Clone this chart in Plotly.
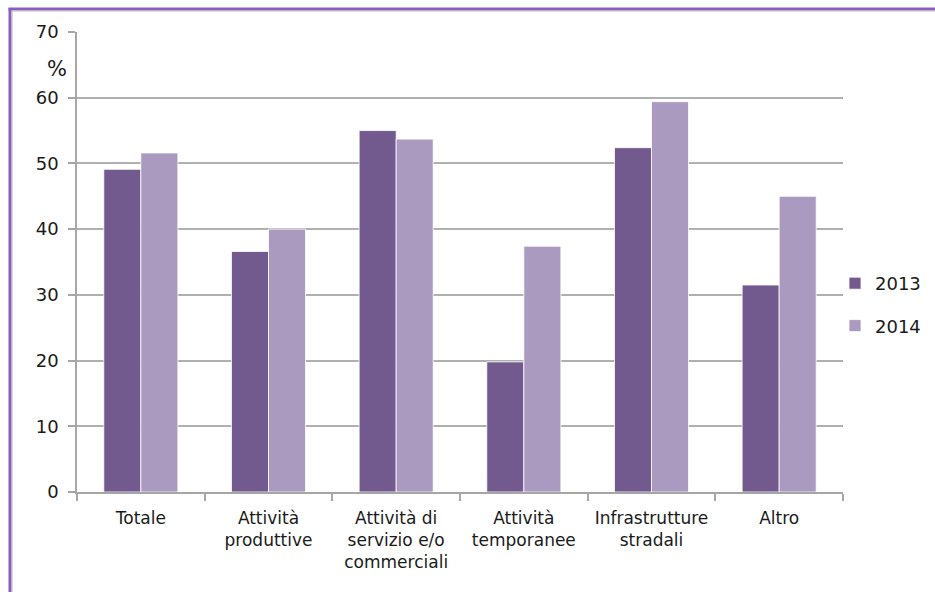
import plotly.graph_objects as go

categories = ["Totale", "Attività<br>produttive", "Attività di<br>servizio e/o<br>commerciali",
              "Attività<br>temporanee", "Infrastrutture<br>stradali", "Altro"]
values_2013 = [49.1, 36.6, 55.0, 19.8, 52.4, 31.5]
values_2014 = [51.6, 40.0, 53.7, 37.4, 59.4, 45.0]
y_ticks = [0, 10, 20, 30, 40, 50, 60, 70]

FONT = "DejaVu Sans, sans-serif"
W, H = 935, 592
L, R, T, B = 77, 92, 32, 100
pw, ph = W - L - R, H - T - B

def px(x):
    return (x - L) / pw

def py(y):
    return (H - B - y) / ph

fig = go.Figure()
fig.add_trace(go.Bar(x=categories, y=values_2013, name="2013", legendgroup="a",
                     marker=dict(color="#72598E", line=dict(color="#FFFFFF", width=0.8))))
fig.add_trace(go.Bar(x=categories, y=values_2014, name="2014", legendgroup="b",
                     marker=dict(color="#AA9ABF", line=dict(color="#FFFFFF", width=0.8))))

fig.update_layout(
    width=W, height=H,
    margin=dict(l=L, r=R, t=T, b=B, autoexpand=False),
    paper_bgcolor="white", plot_bgcolor="white",
    barmode="group", bargap=0.42, bargroupgap=0,
    font=dict(family=FONT, size=16, color="#1a1a1a"),
    showlegend=True,
    legend=dict(x=px(835), y=py(304.5), xanchor="left", yanchor="middle",
                font=dict(family=FONT, size=18, color="#1a1a1a"),
                traceorder="grouped", tracegroupgap=16, bgcolor="rgba(0,0,0,0)"),
    xaxis=dict(showline=True, linecolor="#A6A6A6", linewidth=1.5,
               ticks="outside", tickson="boundaries", ticklen=7, tickcolor="#A6A6A6",
               tickwidth=1.5, tickfont=dict(family=FONT, size=17, color="#1a1a1a"),
               tickangle=0, automargin=False,
               ticklabelstandoff=10, showgrid=False, fixedrange=True),
    yaxis=dict(range=[0, 70], tickvals=y_ticks, showline=True, linecolor="#A6A6A6",
               linewidth=1.5, ticks="outside", ticklen=7, tickcolor="#A6A6A6", tickwidth=1.5,
               showgrid=True, gridcolor="#B0B0B0", gridwidth=1.5, zeroline=False,
               ticklabelstandoff=6, automargin=False,
               tickfont=dict(family=FONT, size=18, color="#1a1a1a"), fixedrange=True),
)

fig.add_annotation(text="%", x=px(57), y=py(68.5), xref="paper", yref="paper",
                   xanchor="center", yanchor="middle",
                   showarrow=False, font=dict(family=FONT, size=21, color="#1a1a1a"))

# frame (purple outer + grey inner, as in the original picture)
fig.add_shape(type="line", xref="paper", yref="paper", x0=px(10), x1=px(10), y0=py(8), y1=py(600),
              line=dict(color="#8A5CC0", width=3))
fig.add_shape(type="line", xref="paper", yref="paper", x0=px(8.5), x1=px(940), y0=py(9), y1=py(9),
              line=dict(color="#8A5CC0", width=3))
fig.add_shape(type="line", xref="paper", yref="paper", x0=px(12), x1=px(12), y0=py(11), y1=py(600),
              line=dict(color="#B8B8B8", width=1))
fig.add_shape(type="line", xref="paper", yref="paper", x0=px(12), x1=px(940), y0=py(11), y1=py(11),
              line=dict(color="#B8B8B8", width=1))

fig.write_html("out.html", config={"displayModeBar": False},
               post_script="document.body.style.margin='0px';")
